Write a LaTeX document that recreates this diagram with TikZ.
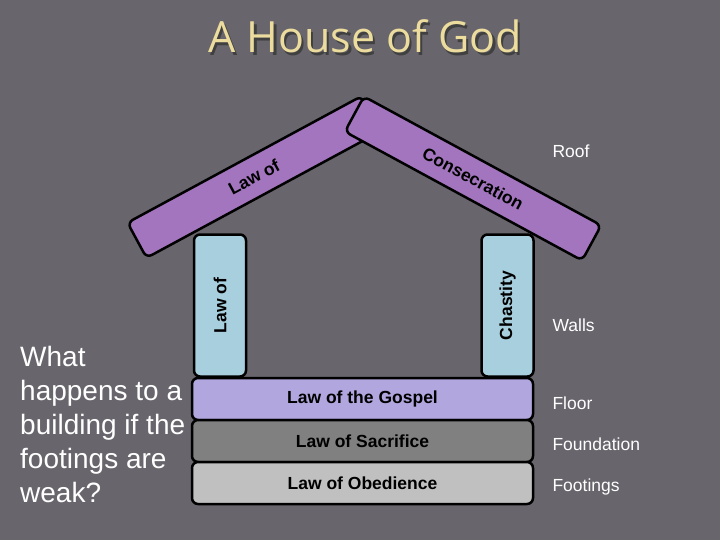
\documentclass[tikz,border=0pt]{standalone}
\usepackage{fontspec}
\setmainfont{Liberation Sans}
\newfontfamily\titlefont{Open Sans}
\usetikzlibrary{positioning}

\definecolor{bgcol}{RGB}{104,101,108}
\definecolor{raftercol}{RGB}{163,117,190}
\definecolor{wallcol}{RGB}{168,207,222}
\definecolor{floorcol}{RGB}{178,166,222}
\definecolor{foundcol}{RGB}{128,128,128}
\definecolor{footcol}{RGB}{192,192,192}
\definecolor{titlecol}{RGB}{236,221,158}

\begin{document}
\begin{tikzpicture}[x=1pt,y=-1pt,
  part/.style={draw=black,line width=2.5pt,rounded corners=6pt,inner sep=0pt,font=\fontsize{17.5}{20}\selectfont\bfseries},
  beam/.style={part,fill=raftercol,minimum width=266pt,minimum height=40pt},
  wall/.style={part,fill=wallcol,minimum width=142pt,minimum height=52pt,rotate=90},
  bar/.style={part,minimum width=341pt,minimum height=42pt},
  side/.style={anchor=west,text=white,font=\fontsize{17.5}{20}\selectfont}]
\fill[bgcol] (0,0) rectangle (720,540);
\useasboundingbox (0,0) rectangle (720,540);
% title with its shadow
\node[anchor=base,text=black!75,font=\titlefont\fontsize{43}{50}\selectfont] (titleshadow) at (367.5,55.5) {A House of God};
\node[anchor=base,text=titlecol,font=\titlefont\fontsize{43}{50}\selectfont] (title) at (365,53) {A House of God};
% roof
\node[beam,rotate=28.4] (lawof) at (254,177) {Law of};
\node[beam,rotate=-28.5,minimum width=270pt] (consec) at (473,178.5) {Consecration};
% walls
\node[wall] (lwall) at (220,305.5) {Law of};
\node[wall] (rwall) at (507.5,305.5) {Chastity};
% floor, foundation, footings
\node[bar,fill=floorcol] (floor) at (362.5,399) {Law of the Gospel};
\node[bar,fill=foundcol] [below=-2.5pt of floor] (found) {Law of Sacrifice};
\node[bar,fill=footcol] [below=-2.5pt of found] (foot) {Law of Obedience};
% names of the parts
\node[side] (roof) at (549,151) {Roof};
\node[side] (walls) at (549,325) {Walls};
\node[side] (floorname) at (549,403) {Floor};
\node[side] (foundname) at (549,444) {Foundation};
\node[side] (footname) at (549,487) {Footings};
\node[anchor=north west,align=left,inner sep=0pt,text=white,font=\fontsize{28}{34}\selectfont] (question) at (20,346) {What\\happens to a\\building if the\\footings are\\weak?};
\end{tikzpicture}
\end{document}
